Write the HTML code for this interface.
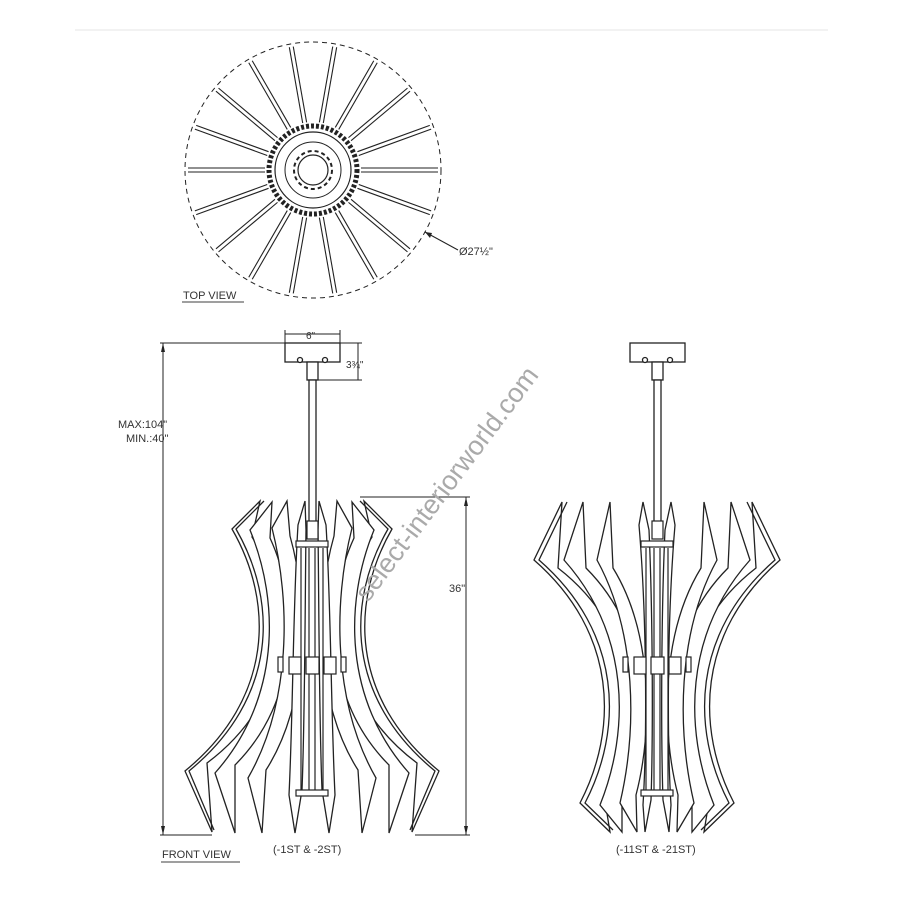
<!DOCTYPE html>
<html><head><style>
html,body{margin:0;padding:0;background:#fff}
svg{display:block}
text{font-family:"Liberation Sans",sans-serif;fill:#333}
</style></head><body>
<svg width="900" height="900" viewBox="0 0 900 900" xmlns="http://www.w3.org/2000/svg">
<defs>
<g id="halfF" fill="#fff" stroke="#222" stroke-width="1.3">
  <path d="M260,501 L232,529 C274,602 274,698 185,771 L212,832 L207,763 C294,698 294,602 252,537 Z"/>
  <path fill="none" d="M264,501 L236,529 C278,602 278,698 189,771 L214,830"/>
  <path d="M272,502 L250,530 C280,603 280,700 215,773 L235,833 L235,765 C300,700 300,603 270,538 Z"/>
  <path d="M287,501 L272,528 C291,603 291,703 248,778 L262,833 L266,770 C309,703 309,603 290,536 Z"/>
  <path d="M305,501 L298,525 C293,606 293,714 289,795 L295,833 L302,790 C305,714 305,606 306,530 Z"/>
</g>
<g id="halfR" fill="#fff" stroke="#222" stroke-width="1.3">
  <path d="M562,502 L534,560 C618,633 618,730 580,803 L610,832 L604,795 C642,730 642,633 558,568 Z"/>
  <path fill="none" d="M567,502 L539,560 C623,633 623,730 585,803 L613,830"/>
  <path d="M583,502 L564,560 C630,634 630,730 600,805 L622,832 L622,797 C652,730 652,634 586,568 Z"/>
  <path d="M610,502 L597,560 C637,633 637,730 620,803 L637,832 L636,795 C653,730 653,633 613,568 Z"/>
  <path d="M643,502 L639,525 C647,620 647,740 643,805 L645,832 L651,800 C653,740 653,620 649,530 Z"/>
</g>
<g id="core" fill="#fff" stroke="#222" stroke-width="1.2">
  <line x1="301" y1="548" x2="301" y2="790" /><line x1="323" y1="548" x2="323" y2="790"/>
  <line x1="309" y1="548" x2="309" y2="790"/><line x1="315" y1="548" x2="315" y2="790"/>
  <rect x="307" y="521" width="11" height="18"/>
  <rect x="296" y="541" width="32" height="6"/>
  <rect x="278" y="657" width="5" height="15"/><rect x="341" y="657" width="5" height="15"/>
  <rect x="289" y="657" width="12" height="17"/><rect x="306" y="657" width="13" height="17"/><rect x="324" y="657" width="12" height="17"/>
  <rect x="296" y="790" width="32" height="6"/>
</g>
<g id="top" fill="#fff" stroke="#222" stroke-width="1.3">
  <rect x="285" y="343" width="55" height="19"/>
  <circle cx="300" cy="360" r="2.5"/><circle cx="325" cy="360" r="2.5"/>
  <rect x="307" y="362" width="11" height="18"/>
  <rect x="309" y="380" width="7" height="142"/>
</g>
</defs>

<line x1="75" y1="30" x2="828" y2="30" stroke="#e6e6e6" stroke-width="1"/>

<g transform="translate(313,170)" fill="none" stroke="#222">
  <circle r="128" stroke-dasharray="5,4" stroke-width="1"/>
  <g stroke-width="1.1">
    <g id="sp"><line x1="48" y1="-2" x2="125" y2="-2"/><line x1="48" y1="2" x2="125" y2="2"/></g>
    <use href="#sp" transform="rotate(20)"/><use href="#sp" transform="rotate(40)"/><use href="#sp" transform="rotate(60)"/>
    <use href="#sp" transform="rotate(80)"/><use href="#sp" transform="rotate(100)"/><use href="#sp" transform="rotate(120)"/>
    <use href="#sp" transform="rotate(140)"/><use href="#sp" transform="rotate(160)"/><use href="#sp" transform="rotate(180)"/>
    <use href="#sp" transform="rotate(200)"/><use href="#sp" transform="rotate(220)"/><use href="#sp" transform="rotate(240)"/>
    <use href="#sp" transform="rotate(260)"/><use href="#sp" transform="rotate(280)"/><use href="#sp" transform="rotate(300)"/>
    <use href="#sp" transform="rotate(320)"/><use href="#sp" transform="rotate(340)"/>
  </g>
  <circle r="44" stroke-width="5" stroke-dasharray="3,2"/>
  <circle r="38" stroke-width="1.2"/>
  <circle r="28" stroke-width="1"/>
  <circle r="19" stroke-width="2" stroke-dasharray="4,3"/>
  <circle r="15" stroke-width="1.2"/>
</g>
<line x1="425" y1="232" x2="458" y2="250" stroke="#222" stroke-width="1"/>
<polygon points="425,232 432,233 430,238" fill="#222"/>
<text x="459" y="255" font-size="11">Ø27½"</text>
<text x="183" y="299" font-size="11">TOP VIEW</text>
<line x1="182" y1="302" x2="244" y2="302" stroke="#666" stroke-width="1.3"/>

<use href="#top"/>
<use href="#halfF"/>
<use href="#halfF" transform="translate(624,0) scale(-1,1)"/>
<use href="#core"/>

<g stroke="#222" stroke-width="1" fill="none">
  <line x1="163" y1="343" x2="163" y2="835"/>
  <line x1="160" y1="343" x2="285" y2="343"/>
  <line x1="160" y1="835" x2="212" y2="835"/>
  <line x1="285" y1="330" x2="285" y2="343"/><line x1="340" y1="330" x2="340" y2="343"/>
  <line x1="285" y1="334" x2="340" y2="334"/>
  <line x1="340" y1="343" x2="362" y2="343"/><line x1="318" y1="380" x2="362" y2="380"/>
  <line x1="358" y1="343" x2="358" y2="380"/>
  <line x1="360" y1="497" x2="470" y2="497"/>
  <line x1="415" y1="835" x2="470" y2="835"/>
  <line x1="466" y1="497" x2="466" y2="835"/>
</g>
<g fill="#222">
  <polygon points="163,343 161,352 165,352"/><polygon points="163,835 161,826 165,826"/>
  <polygon points="466,497 464,506 468,506"/><polygon points="466,835 464,826 468,826"/>
</g>
<text x="306" y="339" font-size="10">6"</text>
<text x="346" y="368" font-size="10">3¾"</text>
<text x="118" y="428" font-size="11">MAX:104"</text>
<text x="126" y="442" font-size="11">MIN.:40"</text>
<text x="449" y="592" font-size="11">36"</text>
<text x="162" y="858" font-size="11">FRONT VIEW</text>
<line x1="161" y1="862" x2="240" y2="862" stroke="#666" stroke-width="1.3"/>
<text x="273" y="853" font-size="11">(-1ST &amp; -2ST)</text>

<use href="#top" transform="translate(345,0)"/>
<use href="#halfR"/>
<use href="#halfR" transform="translate(1314,0) scale(-1,1)"/>
<use href="#core" transform="translate(345,0)"/>
<text x="616" y="853" font-size="11">(-11ST &amp; -21ST)</text>

<text x="0" y="0" font-size="27" style="fill:#aaaaaa" transform="translate(368,603) rotate(-53)">select-interiorworld.com</text>
</svg>
</body></html>
